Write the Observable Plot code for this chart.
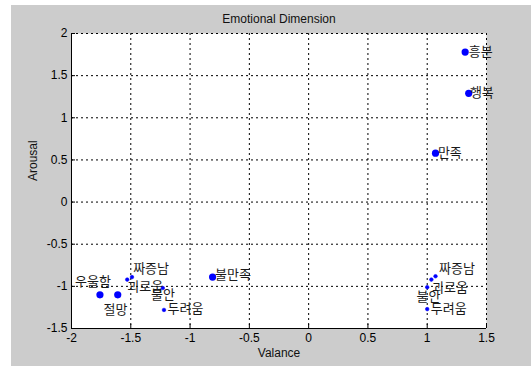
<!DOCTYPE html>
<html>
<head>
<meta charset="utf-8">
<script src="https://cdn.jsdelivr.net/npm/d3@7"></script>
<script src="https://cdn.jsdelivr.net/npm/@observablehq/plot@0.6"></script>
<style>
  html, body { margin: 0; padding: 0; background: #ffffff; }
  #fig { position: absolute; left: 11px; top: 5px; width: 520px; height: 361px; background: #cccccc; }
  #fig svg { background: transparent; overflow: visible; }
</style>
</head>
<body>
<div id="fig"></div>
<script>
// ---- data ----
const title = "Emotional Dimension";
const xLabel = "Valance";
const yLabel = "Arousal";
const xTicks = [-2, -1.5, -1, -0.5, 0, 0.5, 1, 1.5];
const yTicks = [-1.5, -1, -0.5, 0, 0.5, 1, 1.5, 2];

// large markers
const bigNames   = ["흥분", "행복", "만족", "불만족", "우울함", "절망"];
const bigValence = [1.32, 1.35, 1.07, -0.81, -1.76, -1.61];
const bigArousal = [1.78, 1.29, 0.58, -0.89, -1.10, -1.10];

// small markers
const smallNames   = ["짜증남", "괴로움", "불안", "두려움", "짜증남", "괴로움", "불안", "두려움"];
const smallValence = [-1.49, -1.53, -1.23, -1.22, 1.07, 1.035, 1.00, 1.00];
const smallArousal = [-0.89, -0.92, -1.02, -1.28, -0.88, -0.92, -1.01, -1.27];

// text labels (anchor positions in data units)
const labelText = ["흥분", "행복", "만족", "불만족", "우울함", "절망", "짜증남", "괴로움", "불안", "두려움", "짜증남", "괴로움", "불안", "두려움"];
const labelX = [1.35, 1.36, 1.09, -0.79, -1.97, -1.73, -1.48, -1.53, -1.33, -1.19, 1.10, 1.04, 0.91, 1.03];
const labelY = [1.78, 1.30, 0.59, -0.86, -0.95, -1.28, -0.79, -1.01, -1.10, -1.27, -0.79, -1.02, -1.12, -1.27];

// ---- tables ----
const big = bigNames.map((n, i) => ({name: n, x: bigValence[i], y: bigArousal[i]}));
const small = smallNames.map((n, i) => ({name: n, x: smallValence[i], y: smallArousal[i]}));
const labels = labelText.map((t, i) => ({text: t, x: labelX[i], y: labelY[i]}));

const W = 520, H = 361;
const mL = 60, mR = 45, mT = 28, mB = 38;
const innerW = W - mL - mR, innerH = H - mT - mB;
const tickFont = "Liberation Sans, Arial, Helvetica, sans-serif";
const fmt = d => String(d);

const chart = Plot.plot({
  width: W,
  height: H,
  marginLeft: mL,
  marginRight: mR,
  marginTop: mT,
  marginBottom: mB,
  style: {fontFamily: tickFont, fontSize: "12px", color: "#000", background: "transparent", overflow: "visible"},
  x: {domain: [-2, 1.5], ticks: xTicks, tickFormat: fmt, tickSize: 0, tickPadding: 5, label: null},
  y: {domain: [-1.5, 2], ticks: yTicks, tickFormat: fmt, tickSize: 0, tickPadding: 4, label: null},
  marks: [
    Plot.frame({fill: "white", stroke: "none"}),
    // dotted grid
    Plot.ruleX(xTicks, {stroke: "black", strokeWidth: 1, strokeDasharray: "2,3"}),
    Plot.ruleY(yTicks, {stroke: "black", strokeWidth: 1, strokeDasharray: "2,3"}),
    // inward ticks
    Plot.tickX(xTicks, {stroke: "black", insetTop: innerH - 4}),
    Plot.tickY(yTicks, {stroke: "black", insetRight: innerW - 4}),
    // solid axis lines
    Plot.ruleX([-2], {stroke: "black"}),
    Plot.ruleY([-1.5], {stroke: "black"}),
    // markers
    Plot.dot(small, {x: "x", y: "y", r: 1.8, fill: "#0000ff", stroke: "#0000ff", strokeWidth: 0.6}),
    Plot.dot(big, {x: "x", y: "y", r: 3.6, fill: "#0000ff", stroke: "none"}),
    // labels
    Plot.text(labels, {x: "x", y: "y", text: "text", textAnchor: "start", lineAnchor: "middle",
      fontFamily: "Noto Sans CJK KR, sans-serif", fontSize: 13, fill: "#1a1a1a"}),
    // title and axis labels
    Plot.text([title], {frameAnchor: "top", dy: -14, lineAnchor: "middle", fontSize: 12, fill: "#111"}),
    Plot.text([xLabel], {frameAnchor: "bottom", dy: 25, lineAnchor: "middle", fontSize: 12, fill: "#111"}),
    Plot.text([yLabel], {frameAnchor: "left", dx: -38, rotate: -90, lineAnchor: "middle", fontSize: 12, fill: "#111"})
  ]
});
document.getElementById("fig").appendChild(chart);
</script>
</body>
</html>
